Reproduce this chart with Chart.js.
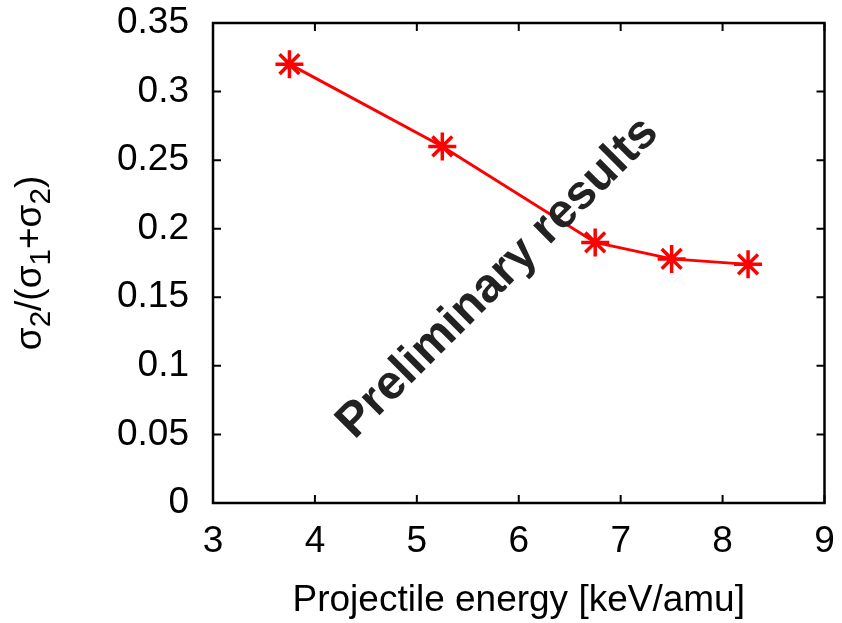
<!DOCTYPE html>
<html>
<head>
<meta charset="utf-8">
<script src="https://cdn.jsdelivr.net/npm/chart.js@4/dist/chart.umd.min.js"></script>
<style>
  html, body { margin: 0; padding: 0; background: #fff; }
  #wrap { width: 842px; height: 623px; }
</style>
</head>
<body>
<div id="wrap"><canvas id="c" width="842" height="623"></canvas></div>
<script>
// data
const energy = [3.75, 5.25, 6.75, 7.5, 8.25];
const ratio = [0.320, 0.260, 0.190, 0.178, 0.174];
const xTickLabels = ["3", "4", "5", "6", "7", "8", "9"];
const yTickLabels = ["0", "0.05", "0.1", "0.15", "0.2", "0.25", "0.3", "0.35"];
const xTitle = "Projectile energy [keV/amu]";
const stamp = "Preliminary results";

const FONT = "'Liberation Sans', Arial, Helvetica, sans-serif";
const SIZE = 37;

// frame with inward ticks on all four sides, gnuplot style
const framePlugin = {
  id: "frame",
  afterDraw(chart) {
    const { ctx, chartArea: a, scales: { x, y } } = chart;
    const tl = 8;
    ctx.save();
    ctx.strokeStyle = "#000";
    ctx.lineWidth = 2;
    ctx.beginPath();
    for (const t of x.ticks) {
      const px = x.getPixelForValue(t.value);
      ctx.moveTo(px, a.bottom); ctx.lineTo(px, a.bottom - tl);
      ctx.moveTo(px, a.top); ctx.lineTo(px, a.top + tl);
    }
    for (const t of y.ticks) {
      const py = y.getPixelForValue(t.value);
      ctx.moveTo(a.left, py); ctx.lineTo(a.left + tl, py);
      ctx.moveTo(a.right, py); ctx.lineTo(a.right - tl, py);
    }
    ctx.stroke();
    ctx.lineWidth = 2.5;
    ctx.strokeRect(a.left, a.top, a.right - a.left, a.bottom - a.top);

    // y axis title with subscripts
    const parts = [["σ", 0], ["2", 1], ["/(", 0], ["σ", 0], ["1", 1], ["+", 0], ["σ", 0], ["2", 1], [")", 0]];
    const subSize = SIZE * 0.8;
    let w = 0;
    for (const [s, sub] of parts) {
      ctx.font = `${sub ? subSize : SIZE}px ${FONT}`;
      w += ctx.measureText(s).width;
    }
    ctx.translate(41, (a.top + a.bottom) / 2);
    ctx.rotate(-Math.PI / 2);
    ctx.fillStyle = "#000";
    ctx.textBaseline = "alphabetic";
    ctx.textAlign = "left";
    let cx = -w / 2;
    for (const [s, sub] of parts) {
      ctx.font = `${sub ? subSize : SIZE}px ${FONT}`;
      ctx.fillText(s, cx, sub ? 9 : 0);
      cx += ctx.measureText(s).width;
    }
    ctx.restore();

    // stamp across the plot
    ctx.save();
    ctx.translate(498, 278);
    ctx.rotate(-45 * Math.PI / 180);
    ctx.font = `bold 48px ${FONT}`;
    ctx.fillStyle = "#222";
    ctx.textAlign = "center";
    ctx.textBaseline = "middle";
    ctx.fillText(stamp, 0, 0);
    ctx.restore();
  }
};

new Chart(document.getElementById("c"), {
  type: "line",
  data: {
    datasets: [{
      data: energy.map((e, i) => ({ x: e, y: ratio[i] })),
      borderColor: "#ff0000",
      backgroundColor: "#ff0000",
      borderWidth: 3,
      pointStyle: "star",
      pointRadius: 14,
      pointBorderWidth: 3.5,
      pointHoverRadius: 14,
      tension: 0
    }]
  },
  options: {
    responsive: false,
    animation: false,
    events: [],
    layout: { padding: { left: 0, right: 16, top: 23, bottom: 0 } },
    plugins: { legend: { display: false }, tooltip: { enabled: false } },
    scales: {
      x: {
        type: "linear", min: 3, max: 9,
        afterFit: s => { s.height = 120; s.paddingLeft = 0; s.paddingRight = 0; },
        grid: { display: false, drawTicks: false },
        border: { display: false },
        title: { display: true, text: xTitle, color: "#000", font: { family: FONT, size: SIZE }, padding: { top: 18, bottom: 0 } },
        ticks: {
          stepSize: 1, color: "#000", padding: 17, maxRotation: 0,
          font: { family: FONT, size: SIZE },
          callback: (v, i) => xTickLabels[i]
        }
      },
      y: {
        type: "linear", min: 0, max: 0.35,
        afterFit: s => { s.width = 213; s.paddingTop = 0; s.paddingBottom = 0; },
        grid: { display: false, drawTicks: false },
        border: { display: false },
        ticks: {
          stepSize: 0.05, color: "#000", padding: 24,
          font: { family: FONT, size: SIZE },
          callback: (v, i) => yTickLabels[i]
        }
      }
    }
  },
  plugins: [framePlugin]
});
</script>
</body>
</html>
